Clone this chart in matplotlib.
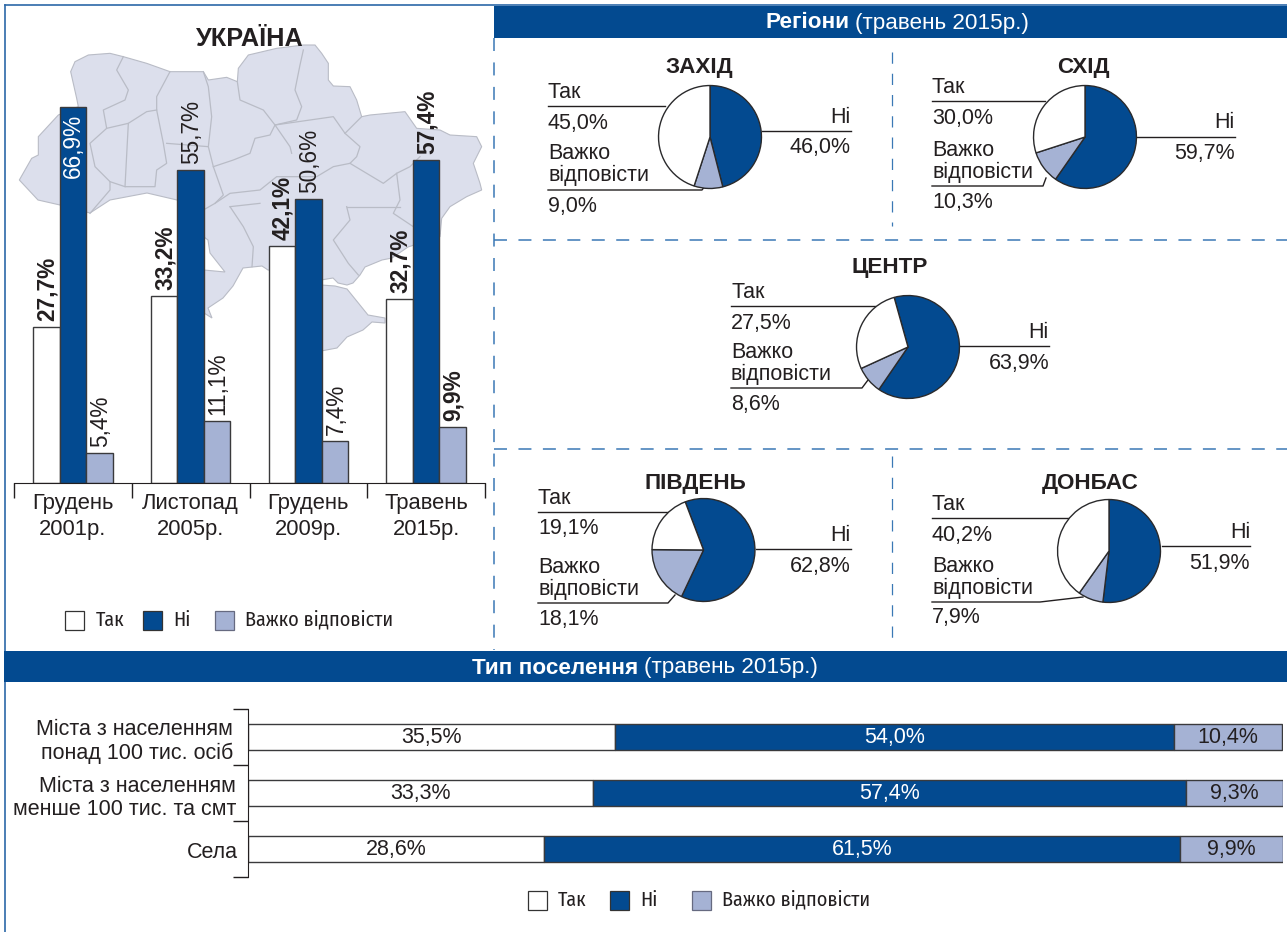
import matplotlib
matplotlib.use("Agg")
import matplotlib.pyplot as plt
from matplotlib.patches import Rectangle, Polygon
from matplotlib.transforms import ScaledTranslation
from matplotlib import font_manager as fm

W, H = 1287, 932
plt.rcParams['font.family'] = ['Liberation Sans', 'DejaVu Sans']

# ---- data ----
periods = ['Грудень\n2001р.', 'Листопад\n2005р.', 'Грудень\n2009р.', 'Травень\n2015р.']
series_names = ['Так', 'Ні', 'Важко відповісти']
tak_total = [27.7, 33.2, 42.1, 32.7]
ni_total = [66.9, 55.7, 50.6, 57.4]
vazhko_total = [5.4, 11.1, 7.4, 9.9]
bold_tak = [True, True, True, True]
bold_ni = [False, False, False, True]
bold_vazhko = [False, False, False, True]

regions = ['ЗАХІД', 'СХІД', 'ЦЕНТР', 'ПІВДЕНЬ', 'ДОНБАС']
region_tak = [45.0, 30.0, 27.5, 19.1, 40.2]
region_ni = [46.0, 59.7, 63.9, 62.8, 51.9]
region_vazhko = [9.0, 10.3, 8.6, 18.1, 7.9]
region_rotation = [0, 0, 15.6, 20.8, 0]

settlements = ['Міста з населенням\nпонад 100 тис. осіб',
               'Міста з населенням\nменше 100 тис. та смт', 'Села']
settle_tak = [35.5, 33.3, 28.6]
settle_ni = [54.0, 57.4, 61.5]
settle_vazhko = [10.4, 9.3, 9.9]

# ---- style ----
BLUE = '#034a90'
LIGHT = '#a5b2d4'
MAP = '#dcdfec'
MAPLINE = '#b9bcc6'
INK = '#231f20'
DASH = '#3a78b5'
FS = 15.5
FS_BAR = 16.3
FS_TITLE = 16.2


def has_cyrillic(entry):
    try:
        font = fm.get_font(entry.fname)
        return all(font.get_char_index(ord(c)) != 0 for c in 'ВажкоТНі')
    except Exception:
        return False


cands = [f for f in fm.fontManager.ttflist
         if any(k in f.name.lower() for k in ('narrow', 'condensed')) and f.style == 'normal' and has_cyrillic(f)]
NARROW = cands[0].name if cands else 'Liberation Sans'
LEG_FS = 14.5 if cands else 13.4


def fmt(v):
    return f'{v:.1f}'.replace('.', ',') + '%'


def px_axes(x0, y0, x1, y1, **kw):
    return fig.add_axes([x0 / W, 1 - y1 / H, (x1 - x0) / W, (y1 - y0) / H], **kw)


fig = plt.figure(figsize=(W / 100, H / 100), dpi=100, facecolor='white')

# background page in pixel coordinates
bg = fig.add_axes([0, 0, 1, 1], zorder=0)
bg.set_xlim(0, W)
bg.set_ylim(H, 0)
bg.axis('off')


def zp(pts):
    return [(x / 3, y / 3) for x, y in pts]


# decorative map of Ukraine (background only)
outline = zp([(58, 540), (95, 475), (115, 465), (115, 410), (175, 345), (235, 320), (230, 295), (212, 215),
              (225, 185), (265, 165), (330, 160), (370, 170), (440, 190), (510, 215), (545, 215), (610, 215),
              (625, 240), (680, 232), (712, 245), (715, 205), (745, 165), (830, 145), (910, 135), (945, 135),
              (965, 160), (985, 190), (985, 240), (1000, 258), (1050, 260), (1070, 300), (1085, 350), (1110, 345),
              (1215, 335), (1250, 385), (1320, 390), (1350, 405), (1430, 410), (1445, 440), (1420, 490),
              (1440, 550), (1445, 570), (1400, 590), (1350, 620), (1325, 655), (1320, 710)]) + [
    (408, 247), (392, 258), (382, 260), (365, 267), (360, 275), (353, 283), (347, 285), (338, 283), (333, 278),
    (321, 280), (294, 272), (268, 270), (262, 266), (243, 268), (233, 286), (223, 298), (208, 308), (212, 318),
    (204, 313), (190, 300), (190, 270), (204, 270), (225, 272), (210, 253), (208, 240), (204, 237), (203, 210),
    (177, 200), (147, 193), (110, 200), (90, 213), (60, 205), (38, 200)]
crimea = [(285, 287), (321, 285), (335, 286), (347, 289), (368, 315), (385, 318), (385, 323), (372, 322), (363, 330),
          (347, 337), (337, 348), (321, 351), (300, 345), (285, 320)]
for poly in (outline, crimea):
    bg.add_patch(Polygon(poly, closed=True, fc=MAP, ec=MAPLINE, lw=0.8, zorder=1))
borders = [
    [(370, 170), (350, 210), (385, 270), (375, 300), (310, 330), (320, 385), (270, 430), (285, 500), (330, 545),
     (330, 570), (270, 640)],
    [(510, 215), (470, 290), (470, 330), (490, 430), (500, 490), (470, 510), (465, 560), (375, 560), (385, 370),
     (320, 385)],
    [(375, 560), (330, 545)],
    [(470, 330), (440, 335), (385, 370)],
    [(610, 215), (625, 260), (635, 350), (625, 440), (640, 500), (670, 585), (645, 610), (610, 630)],
    [(500, 430), (625, 440)],
    [(640, 500), (700, 480), (750, 460), (765, 415), (810, 405), (825, 375), (870, 440), (875, 460)],
    [(712, 245), (720, 300), (790, 330), (825, 375), (890, 360), (905, 320), (885, 270), (900, 195), (910, 150)],
    [(825, 375), (1000, 350), (1035, 400), (1080, 440), (1070, 470), (1050, 490), (1150, 550), (1190, 520),
     (1230, 500), (1260, 470)],
    [(1035, 400), (1085, 350)],
    [(645, 610), (690, 580), (780, 570), (830, 530), (950, 530), (1000, 500), (1050, 490)],
    [(1190, 520), (1200, 600), (1180, 640), (1240, 680), (1320, 700)],
    [(1040, 620), (1050, 660), (1000, 720), (1045, 790), (1075, 825)],
    [(1040, 620), (1200, 620)],
    [(690, 620), (730, 680), (760, 740), (756, 800)],
    [(690, 620), (780, 610)],
]
for b in borders:
    xs, ys = zip(*zp(b))
    bg.plot(xs, ys, color=MAPLINE, lw=0.9, zorder=1.5)

# frame
bg.plot([5, 5], [5, H], color='#2c68a8', lw=1.2)
bg.plot([5, W], [5, 5], color='#2c68a8', lw=1.2)

# section headers
for (x0, y0, x1, y1) in [(494, 6, W, 38), (4, 651, W, 682)]:
    bg.add_patch(Rectangle((x0, y0), x1 - x0, y1 - y0, fc=BLUE, ec='none', zorder=3))


def header(cx, cy, strong, rest):
    t = bg.text(0, cy, strong, color='white', fontsize=FS_TITLE, fontweight='bold', va='center', ha='left', zorder=4)
    r = bg.text(0, cy, rest, color='white', fontsize=FS_TITLE, va='center', ha='left', zorder=4)
    fig.canvas.draw()
    rd = fig.canvas.get_renderer()
    w1 = t.get_window_extent(rd).width
    w2 = r.get_window_extent(rd).width
    gap = 6
    x = cx - (w1 + w2 + gap) / 2
    t.set_x(x)
    r.set_x(x + w1 + gap)


header(897, 23, 'Регіони', '(травень 2015р.)')
header(645, 668, 'Тип поселення', '(травень 2015р.)')

# dashed dividers
dash_kw = dict(color=DASH, lw=1.1, dashes=(8.5, 7.5), zorder=2)
bg.plot([494, 494], [38, 650], **dash_kw)
bg.plot([494, W], [240, 240], **dash_kw)
bg.plot([494, W], [449, 449], **dash_kw)
thin_kw = dict(color=DASH, lw=0.9, dashes=(9, 8), zorder=2)
bg.plot([892, 892], [52, 226], **thin_kw)
bg.plot([892, 892], [456, 642], **thin_kw)

bg.text(250, 39, 'УКРАЇНА', fontsize=18.2, fontweight='bold', color=INK, ha='center', va='center', zorder=5)

# ---- grouped bars ----
ax = px_axes(14, 60, 485, 483, zorder=2)
ax.patch.set_alpha(0)
ax.set_xlim(-0.5, 3.5)
ax.set_ylim(0, 423 / 5.62)
bw = 0.2255
for i, p in enumerate(periods):
    for off, val, col, bold in [(-1, tak_total[i], 'white', bold_tak[i]),
                                (0, ni_total[i], BLUE, bold_ni[i]),
                                (1, vazhko_total[i], LIGHT, bold_vazhko[i])]:
        ax.bar(i + off * bw, val, width=bw, color=col, edgecolor='#3a3a3c', linewidth=1.0)
        inside = val > 60
        ax.annotate(fmt(val), (i + off * bw, val), xytext=(1, -7 if inside else 6), textcoords='offset pixels',
                    rotation=90, ha='center', va='top' if inside else 'bottom', fontsize=FS_BAR,
                    color='white' if inside else INK, fontweight='bold' if bold else 'normal')
for s in ['top', 'left', 'right']:
    ax.spines[s].set_visible(False)
ax.spines['bottom'].set_color(INK)
ax.set_yticks([])
ax.set_xticks(range(len(periods)))
ax.set_xticklabels(periods, fontsize=15.8, color=INK, linespacing=1.3)
ax.tick_params(axis='x', which='major', length=0, pad=7.5)
ax.set_xticks([-0.5, 0.5, 1.5, 2.5, 3.5], minor=True)
ax.tick_params(axis='x', which='minor', length=10.5, width=1, color=INK)


def legend(items, y):
    colors = ['white', BLUE, LIGHT]
    for (sx, tx), name, c in zip(items, series_names, colors):
        bg.add_patch(Rectangle((sx, y - 9.5), 19, 19, fc=c, ec='#333333' if c != LIGHT else '#666a80', lw=0.9, zorder=5))
        bg.text(tx, y, name, fontsize=LEG_FS, family=[NARROW, 'DejaVu Sans'], color=INK, va='center', ha='left',
                zorder=5)


legend([(65, 96), (143, 173), (215, 245)], 620)
legend([(528, 558), (610, 640), (692, 722)], 900)

# ---- pies ----
pie_geo = [(710, 137), (1085, 137), (908, 347), (703.5, 550), (1109, 551)]
R = 52.5
title_xy = [(699, 68), (1083, 68), (890, 268), (695, 483), (1090, 483)]
# label layout: left x, y of Так, rule, value; y of two-line label, rule, value; rule end; Ні right x, y, rule, value
layout = [
    dict(lx=548, ty=(91, 106, 122), tx=665, vy=(152, 174, 190, 205), vx=(702, 705, 186),
         rx=851, ny=(116, 131, 146), nx=762),
    dict(lx=932, ty=(86, 101, 117), tx=1045, vy=(149, 171, 186, 201), vx=(1043, 1046, 178),
         rx=1235, ny=(121, 137, 152), nx=1137),
    dict(lx=731, ty=(291, 306, 322), tx=875, vy=(351, 373, 388, 403), vx=(862, 868, 380),
         rx=1049, ny=(331, 346, 362), nx=960),
    dict(lx=538, ty=(497, 512, 527), tx=668, vy=(566, 588, 603, 618), vx=(668, 675, 595),
         rx=851, ny=(534, 549, 565), nx=756),
    dict(lx=932, ty=(503, 518, 534), tx=1070, vy=(565, 587, 602, 616), vx=(1040, 1083, 597),
         rx=1250, ny=(531, 546, 562), nx=1162),
]
TY = 1.5  # text optical centring
for i, name in enumerate(regions):
    cx, cy = pie_geo[i]
    L = layout[i]
    bg.text(*title_xy[i], name, fontsize=FS_TITLE, fontweight='bold', color=INK, ha='center', va='center', zorder=5)
    t_kw = dict(fontsize=FS, color=INK, va='center', zorder=5)
    line = dict(color=INK, lw=1.0, zorder=2.5)
    bg.text(L['lx'], L['ty'][0] + TY, 'Так', ha='left', **t_kw)
    bg.plot([L['lx'], L['tx']], [L['ty'][1]] * 2, **line)
    bg.text(L['lx'], L['ty'][2] + TY, fmt(region_tak[i]), ha='left', **t_kw)
    bg.text(L['lx'], L['vy'][0] + TY, 'Важко', ha='left', **t_kw)
    bg.text(L['lx'], L['vy'][1] + TY, 'відповісти', ha='left', **t_kw)
    vx0, vx1, vy1 = L['vx']
    bg.plot([L['lx'], vx0, vx1], [L['vy'][2], L['vy'][2], vy1], **line)
    bg.text(L['lx'], L['vy'][3] + TY, fmt(region_vazhko[i]), ha='left', **t_kw)
    bg.text(L['rx'], L['ny'][0] + TY, 'Ні', ha='right', **t_kw)
    bg.plot([L['nx'], L['rx']], [L['ny'][1]] * 2, **line)
    bg.text(L['rx'], L['ny'][2] + TY, fmt(region_ni[i]), ha='right', **t_kw)

    pa = px_axes(cx - R, cy - R, cx + R, cy + R, zorder=3)
    pa.pie([region_ni[i], region_vazhko[i], region_tak[i]], colors=[BLUE, LIGHT, 'white'],
           startangle=90 + region_rotation[i], counterclock=False, radius=1.0,
           wedgeprops=dict(edgecolor='#2a2a2c', linewidth=1.0))
    pa.set_xlim(-1.02, 1.02)
    pa.set_ylim(-1.02, 1.02)

# ---- stacked bars ----
sx = px_axes(248, 709, 1282.6, 877, zorder=2)
sx.patch.set_alpha(0)
sx.set_xlim(0, 100)
sx.set_ylim(2.5, -0.5)
for i in range(len(settlements)):
    left = 0
    for val, col, tc in [(settle_tak[i], 'white', INK), (settle_ni[i], BLUE, 'white'), (settle_vazhko[i], LIGHT, INK)]:
        sx.barh(i, val, left=left, height=0.47, color=col, edgecolor='#3a3a3c', linewidth=1.0)
        sx.annotate(fmt(val), (left + val / 2, i), xytext=(0, -1), textcoords='offset pixels',
                    ha='center', va='center', fontsize=FS, color=tc)
        left += val
for s in ['top', 'bottom', 'right']:
    sx.spines[s].set_visible(False)
sx.spines['left'].set_color(INK)
sx.set_xticks([])
sx.set_yticks(range(3))
sx.set_yticklabels(settlements, fontsize=FS, color=INK, linespacing=1.15, ha='right', multialignment='right')
sx.tick_params(axis='y', which='major', length=0, pad=10.8)
sx.set_yticks([-0.5, 0.5, 1.5, 2.5], minor=True)
sx.tick_params(axis='y', which='minor', length=10.5, width=1, color=INK)
for lab, dx in zip(sx.get_yticklabels(), [0, 3, 5]):
    lab.set_transform(lab.get_transform() + ScaledTranslation(dx / 100, -1 / 100, fig.dpi_scale_trans))

fig.savefig('out.png', dpi=100)
